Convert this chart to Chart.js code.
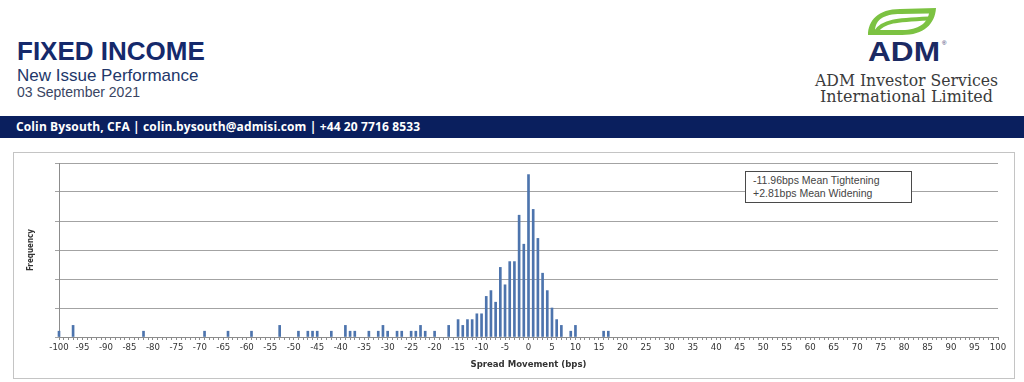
<!DOCTYPE html>
<html>
<head>
<meta charset="utf-8">
<script src="https://cdn.jsdelivr.net/npm/chart.js@4/dist/chart.umd.min.js"></script>
<style>
  body { margin: 0; width: 1024px; height: 382px; background: #fff; position: relative; overflow: hidden; font-family: 'Liberation Sans', Arial, sans-serif; }
  .abs { position: absolute; white-space: nowrap; }
  #title { left: 17px; top: 38px; font-size: 26px; line-height: 26px; font-weight: bold; color: #15296b; }
  #sub { left: 17px; top: 67px; font-size: 17px; line-height: 17px; color: #22376a; }
  #date { left: 17px; top: 85px; font-size: 14px; line-height: 14px; color: #3a4563; }
  #bar { left: 0; top: 116px; width: 1024px; height: 22px; background: #0a1f5e; }
  #contact { left: 16px; top: 116px; font-family: 'Open Sans', sans-serif; font-weight: bold; font-size: 12px;
             letter-spacing: 0.12px; line-height: 22px; color: #fff; }
  #box { left: 13px; top: 152px; width: 1000px; height: 225px; border: 1px solid #c4c4c4; }
  #chartWrap { left: 14px; top: 153px; width: 1000px; height: 225px; }
  #note { left: 745px; top: 171px; width: 158px; height: 30px; border: 1px solid #4a4a4a; background: #fff;
          padding: 0 0 0 7px; font-size: 10.5px; line-height: 13px; color: #444; }
  #note div:first-child { margin-top: 2px; }
</style>
</head>
<body>
<div class="abs" id="title">FIXED INCOME</div>
<div class="abs" id="sub">New Issue Performance</div>
<div class="abs" id="date">03 September 2021</div>

<svg class="abs" style="left:800px;top:0" width="224" height="110" viewBox="800 0 224 110">
  <path d="M868 35 C868 21 878 9 900 9 L936 8 C935 24 924 35 902 35 Z" fill="#7cc242"/>
  <path d="M875 30 C876 20 883 14 901 14 L929 13.5 C927 23 919 30 902 30 Z" fill="#fff"/>
  <path d="M876 31.5 C883 21 896 20 929 18.5" stroke="#7cc242" stroke-width="4" fill="none"/>
  <text x="868" y="61" textLength="72" lengthAdjust="spacingAndGlyphs" font-family="Liberation Sans" font-weight="bold" font-size="27" fill="#1b2a63">ADM</text>
  <text x="942" y="45" font-family="Liberation Sans" font-size="6" fill="#1b2a63">®</text>
  <text x="815" y="86" textLength="183" lengthAdjust="spacingAndGlyphs" font-family="DejaVu Serif" font-size="17" fill="#3b3b3b">ADM Investor Services</text>
  <text x="820" y="102" textLength="173" lengthAdjust="spacingAndGlyphs" font-family="DejaVu Serif" font-size="17" fill="#3b3b3b">International Limited</text>
</svg>

<div class="abs" id="bar"></div>
<div class="abs" id="contact">Colin Bysouth, CFA | colin.bysouth@admisi.com | +44 20 7716 8533</div>

<div class="abs" id="box"></div>
<div class="abs" id="chartWrap"><canvas id="histChart" width="1000" height="225"></canvas></div>
<div class="abs" id="note">
  <div>-11.96bps Mean Tightening</div>
  <div>+2.81bps Mean Widening</div>
</div>

<script>
// spread movement buckets (bps) that have at least one new issue
const spreadBps = [-100, -97, -82, -69, -64, -59, -53, -49, -47, -46, -45, -42, -39, -38, -37,
  -34, -32, -31, -30, -28, -27, -25, -24, -23, -22, -20, -17, -15, -14, -13, -12, -11, -10,
  -9, -8, -7, -6, -5, -4, -3, -2, -1, 0, 1, 2, 3, 4, 5, 6, 7, 9, 10, 16, 17];

// number of issues in each bucket
const frequency = [1, 2, 1, 1, 1, 1, 2, 1, 1, 1, 1, 1, 2, 1, 1,
  1, 1, 2, 1, 1, 1, 1, 1, 2, 1, 1, 2, 3, 2, 3, 3, 4, 4,
  7, 8, 6, 12, 9, 13, 13, 21, 16, 28, 22, 17, 11, 8, 5, 3, 2, 1, 2, 1, 1];

// labelled ticks on the x axis
const xTickLabels = [-100, -95, -90, -85, -80, -75, -70, -65, -60, -55, -50, -45, -40, -35, -30,
  -25, -20, -15, -10, -5, 0, 5, 10, 15, 20, 25, 30, 35, 40, 45, 50, 55, 60, 65, 70, 75, 80, 85,
  90, 95, 100];

const axisGrey = '#8c8c8c';
const tickFont = { family: "'Liberation Sans Narrow', 'DejaVu Sans Condensed', 'Liberation Sans', sans-serif", size: 9.5 };

new Chart(document.getElementById('histChart'), {
    type: 'bar',
    data: {
        datasets: [{
            data: spreadBps.map((x, i) => ({ x: x, y: frequency[i] })),
            backgroundColor: '#4d74ad',
            borderWidth: 0,
            barThickness: 2,
            clip: false
        }]
    },
    options: {
        responsive: false,
        animation: false,
        layout: { padding: { top: 10, right: 16, left: 0, bottom: 0 } },
        plugins: {
            legend: { display: false },
            tooltip: { enabled: false }
        },
        scales: {
            x: {
                type: 'linear',
                min: -100,
                max: 100,
                offset: false,
                afterFit: (scale) => { scale.height = 41; },
                ticks: {
                    stepSize: 1,
                    autoSkip: false,
                    maxRotation: 0,
                    padding: 2,
                    color: '#333',
                    font: tickFont,
                    callback: (v) => xTickLabels.includes(v) ? String(v) : ''
                },
                grid: { drawOnChartArea: false, offset: false, tickLength: 3, color: axisGrey },
                border: { color: axisGrey },
                title: {
                    display: true,
                    text: 'Spread Movement (bps)',
                    color: '#333',
                    font: { family: tickFont.family, size: 9.5, weight: 'bold' },
                    padding: { top: 0, bottom: 8 }
                }
            },
            y: {
                min: 0,
                max: 30,
                afterFit: (scale) => { scale.width = 45; },
                ticks: { stepSize: 5, display: false },
                grid: { color: '#a3a3a3', tickLength: 4 },
                border: { color: axisGrey },
                title: {
                    display: true,
                    text: 'Frequency',
                    color: '#333',
                    font: { family: tickFont.family, size: 8, weight: 'bold' },
                    padding: { top: 12, bottom: 0 }
                }
            }
        }
    }
});
</script>
</body>
</html>
